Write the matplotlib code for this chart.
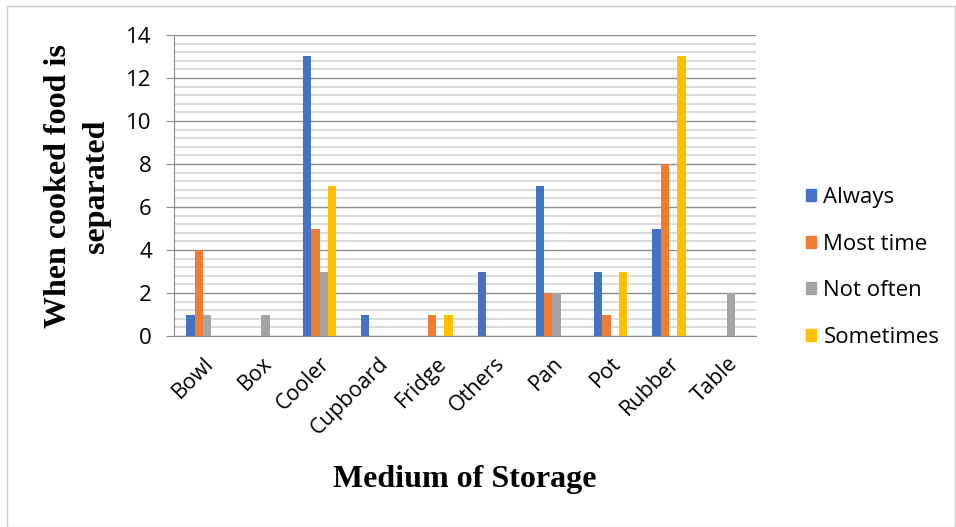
import numpy as np
import matplotlib
matplotlib.use('Agg')
import matplotlib.pyplot as plt
from matplotlib.patches import Patch, Rectangle
from matplotlib.ticker import MultipleLocator

# 储存方式及各类别频数
storage = ['Bowl', 'Box', 'Cooler', 'Cupboard', 'Fridge', 'Others', 'Pan', 'Pot', 'Rubber', 'Table']
always = [1, 0, 13, 1, 0, 3, 7, 3, 5, 0]
most_time = [4, 0, 5, 0, 1, 0, 2, 1, 8, 0]
not_often = [1, 1, 3, 0, 0, 0, 2, 0, 0, 2]
sometimes = [0, 0, 7, 0, 1, 0, 0, 3, 13, 0]

series_names = ['Always', 'Most time', 'Not often', 'Sometimes']
colors = ['#4472C4', '#ED7D31', '#A5A5A5', '#FFC000']

plt.rcParams['font.family'] = ['Open Sans', 'DejaVu Sans']

fig = plt.figure(figsize=(9.56, 5.27), dpi=100)
ax = fig.add_axes([0.182, 0.3624, 0.609, 0.5712])

x = np.arange(len(storage))
width = 0.143
for i, (vals, c) in enumerate(zip([always, most_time, not_often, sometimes], colors)):
    ax.bar(x + (i - 1.5) * width, vals, width, color=c, zorder=3)

ax.set_xlim(-0.5, len(storage) - 0.5)
ax.set_ylim(0, 14)
ax.yaxis.set_major_locator(MultipleLocator(2))
ax.yaxis.set_minor_locator(MultipleLocator(0.4))
ax.grid(axis='y', which='major', color='#8c8c8c', linewidth=1.0, zorder=1)
ax.grid(axis='y', which='minor', color='#d4d4d4', linewidth=1.2, zorder=0)

for side in ['top', 'right']:
    ax.spines[side].set_visible(False)
ax.spines['left'].set_color('#8c8c8c')
ax.spines['bottom'].set_color('#8c8c8c')

ax.tick_params(axis='y', which='major', length=6, color='#8c8c8c', labelsize=16, pad=10)
ax.tick_params(axis='y', which='minor', length=0)
ax.tick_params(axis='x', length=0, labelsize=15.5, pad=12)
ax.set_xticks(x)
ax.set_xticklabels(storage, rotation=45, ha='right', va='top', rotation_mode='anchor')

# 坐标轴标题
fig.text(0.081, 1 - 186 / 527, 'When cooked food is\nseparated', rotation=90,
         ha='center', va='center', multialignment='center', linespacing=1.4,
         fontsize=23, fontweight='bold', family='Liberation Serif')
fig.text(465 / 956, 1 - 480 / 527, 'Medium of Storage', ha='center', va='center',
         fontsize=23, fontweight='bold', family='Liberation Serif')

handles = [Patch(color=c, label=n) for c, n in zip(colors, series_names)]
fig.legend(handles=handles, loc='center left', bbox_to_anchor=(0.831, 1 - 267.5 / 527),
           frameon=False, fontsize=16, handlelength=0.45, handleheight=0.45,
           handletextpad=0.35, labelspacing=1.15, borderpad=0)

# 外框
fig.patches.append(Rectangle((0.007, 0.0), 0.992, 0.988, transform=fig.transFigure,
                             fill=False, edgecolor='#c8c8c8', linewidth=1.0))

fig.savefig('out.png', dpi=100)
